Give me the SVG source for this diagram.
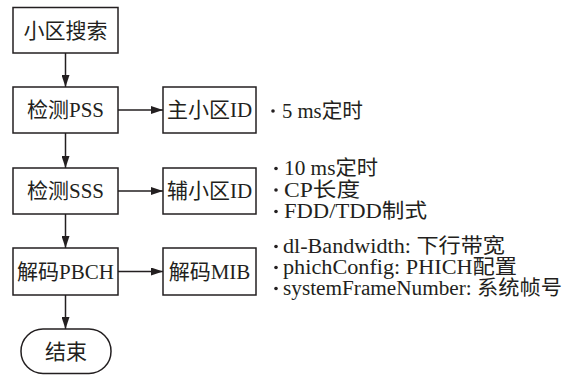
<svg xmlns="http://www.w3.org/2000/svg" width="573" height="375" viewBox="0 0 573 375">
  <style>
    .box { fill: #ffffff; stroke: #231f20; stroke-width: 1.5; }
    .lbl { font-family: "Liberation Serif", "Noto Sans CJK SC", serif; font-size: 21px; fill: #231f20; text-anchor: middle; }
    .note { font-family: "Liberation Serif", "Noto Sans CJK SC", serif; font-size: 20.5px; fill: #231f20; }
    .edge { stroke: #231f20; stroke-width: 1.5; fill: none; marker-end: url(#arrow); }
    .dot { fill: #231f20; }
  </style>
  <defs>
    <marker id="arrow" viewBox="0 0 12 8" refX="12" refY="4" markerWidth="12" markerHeight="8" markerUnits="userSpaceOnUse" orient="auto">
      <path d="M0,0 L12,4 L0,8 Z" fill="#231f20"/>
    </marker>
  </defs>

  <!-- connectors -->
  <g id="connectors">
    <line class="edge" x1="65.5" y1="53" x2="65.5" y2="87"/>
    <line class="edge" x1="65.5" y1="133" x2="65.5" y2="168"/>
    <line class="edge" x1="65.5" y1="214" x2="65.5" y2="248"/>
    <line class="edge" x1="65.5" y1="295" x2="65.5" y2="329"/>
    <line class="edge" x1="118" y1="110" x2="163" y2="110"/>
    <line class="edge" x1="118" y1="191" x2="163" y2="191"/>
    <line class="edge" x1="118" y1="271.5" x2="163" y2="271.5"/>
  </g>

  <!-- flow steps -->
  <g id="cell-search">
    <rect class="box" x="13" y="7.5" width="105" height="45.5"/>
    <text class="lbl" x="65.5" y="37.5">小区搜索</text>
  </g>
  <g id="detect-pss">
    <rect class="box" x="13" y="87" width="105" height="46"/>
    <text class="lbl" x="65.5" y="117">检测PSS</text>
  </g>
  <g id="primary-id">
    <rect class="box" x="163" y="87" width="93" height="46"/>
    <text class="lbl" x="209.5" y="117">主小区ID</text>
  </g>
  <g id="detect-sss">
    <rect class="box" x="13" y="168" width="105" height="46"/>
    <text class="lbl" x="65.5" y="198">检测SSS</text>
  </g>
  <g id="secondary-id">
    <rect class="box" x="163" y="168" width="93" height="46"/>
    <text class="lbl" x="209.5" y="198">辅小区ID</text>
  </g>
  <g id="decode-pbch">
    <rect class="box" x="13" y="248" width="105" height="47"/>
    <text class="lbl" x="65.5" y="278.5">解码PBCH</text>
  </g>
  <g id="decode-mib">
    <rect class="box" x="163" y="248" width="93" height="47"/>
    <text class="lbl" x="209.5" y="278.5">解码MIB</text>
  </g>
  <g id="end">
    <rect class="box" x="21" y="329" width="90" height="44.5" rx="22" ry="22"/>
    <text class="lbl" x="66" y="358.5">结束</text>
  </g>

  <!-- notes -->
  <g id="pss-notes">
    <circle class="dot" cx="273" cy="111" r="1.8"/>
    <text class="note" x="282" y="118" textLength="81" lengthAdjust="spacingAndGlyphs">5 ms定时</text>
  </g>
  <g id="sss-notes">
    <circle class="dot" cx="276" cy="168.5" r="1.8"/>
    <text class="note" x="284" y="175" textLength="94" lengthAdjust="spacingAndGlyphs">10 ms定时</text>
    <circle class="dot" cx="276" cy="190" r="1.8"/>
    <text class="note" x="284" y="196.5" textLength="76" lengthAdjust="spacingAndGlyphs">CP长度</text>
    <circle class="dot" cx="276" cy="211.5" r="1.8"/>
    <text class="note" x="284" y="218" textLength="143" lengthAdjust="spacingAndGlyphs">FDD/TDD制式</text>
  </g>
  <g id="mib-notes">
    <circle class="dot" cx="276" cy="246.5" r="1.8"/>
    <text class="note" x="283" y="253" textLength="222" lengthAdjust="spacingAndGlyphs">dl-Bandwidth: 下行带宽</text>
    <circle class="dot" cx="276" cy="267.5" r="1.8"/>
    <text class="note" x="283" y="274" textLength="234" lengthAdjust="spacingAndGlyphs">phichConfig: PHICH配置</text>
    <circle class="dot" cx="276" cy="288.5" r="1.8"/>
    <text class="note" x="283" y="295" textLength="279" lengthAdjust="spacingAndGlyphs">systemFrameNumber: 系统帧号</text>
  </g>
</svg>
